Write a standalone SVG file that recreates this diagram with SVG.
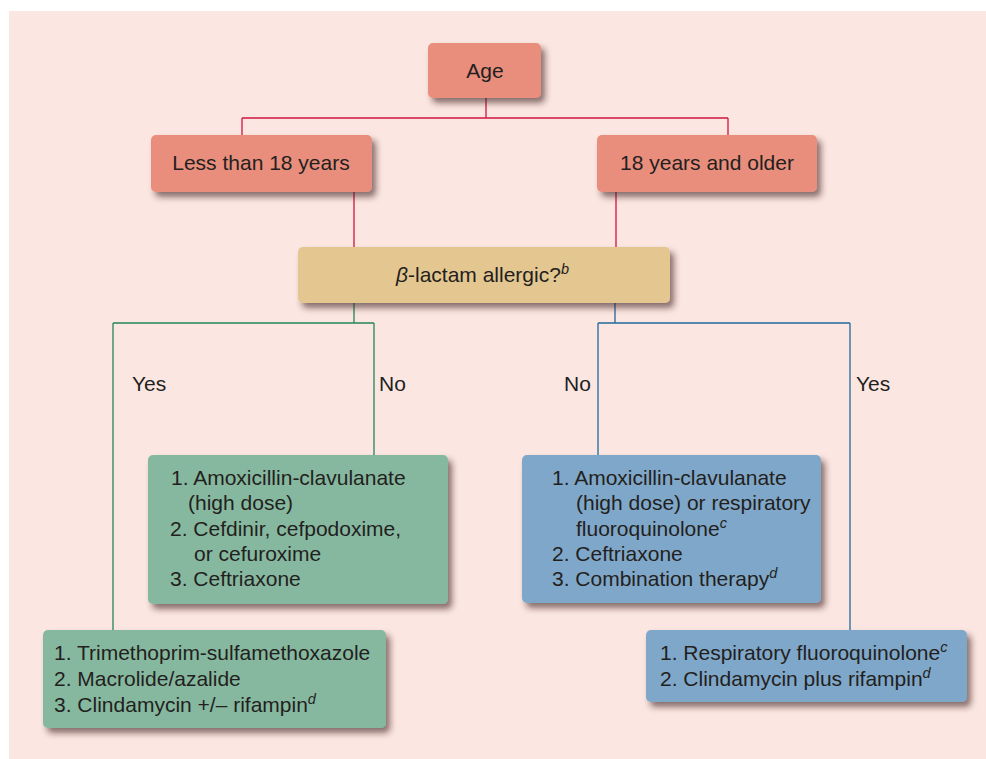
<svg xmlns="http://www.w3.org/2000/svg" width="986" height="759" viewBox="0 0 986 759">
  <defs>
    <filter id="shadow" x="-10%" y="-20%" width="125%" height="150%">
      <feDropShadow dx="4" dy="5" stdDeviation="3" flood-color="#3a2420" flood-opacity="0.6"/>
    </filter>
    <style>
      .box { filter: url(#shadow); }
      .salmon { fill: #e98e7b; }
      .tan { fill: #e4c690; }
      .green { fill: #86b89f; }
      .blue { fill: #7fa7c9; }
      text { font-family: "Liberation Sans", Arial, sans-serif; font-size: 21px; fill: #231f20; }
      .c { text-anchor: middle; }
      .sup { font-size: 14.5px; font-style: italic; }
      .red { stroke: #d0163e; stroke-width: 1.3; fill: none; }
      .grn { stroke: #23865a; stroke-width: 1.3; fill: none; }
      .blu { stroke: #1f6a9c; stroke-width: 1.3; fill: none; }
    </style>
  </defs>

  <!-- panel -->
  <rect x="9" y="11" width="977" height="748" fill="#fbe6e1"/>

  <!-- connectors -->
  <g id="connectors">
    <path class="red" d="M486 98 V118 M242 118 H728 M242 118 V135 M728 118 V135 M354 192 V247 M616 192 V247"/>
    <path class="grn" d="M354 303 V323 M113 323 H374 M374 323 V455 M113 323 V630"/>
    <path class="blu" d="M615 303 V323 M598 323 H850 M598 323 V455 M850 323 V630"/>
  </g>

  <!-- branch labels -->
  <g id="labels">
    <text x="132" y="391">Yes</text>
    <text x="379" y="391">No</text>
    <text x="564" y="391">No</text>
    <text x="856" y="391">Yes</text>
  </g>

  <g id="age">
    <rect class="box salmon" x="428" y="43" width="113" height="55" rx="5"/>
    <text class="c" x="485" y="78">Age</text>
  </g>

  <g id="under18">
    <rect class="box salmon" x="151" y="135" width="221" height="57" rx="5"/>
    <text class="c" x="261" y="170">Less than 18 years</text>
  </g>

  <g id="adult">
    <rect class="box salmon" x="597" y="135" width="220" height="57" rx="5"/>
    <text class="c" x="707" y="170">18 years and older</text>
  </g>

  <g id="allergy">
    <rect class="box tan" x="298" y="247" width="372" height="56" rx="5"/>
    <text x="396" y="282"><tspan font-style="italic">β</tspan>-lactam allergic?<tspan class="sup" dy="-8">b</tspan></text>
  </g>

  <g id="child-no">
    <rect class="box green" x="148" y="455" width="300" height="149" rx="5"/>
    <text x="171" y="485">1. Amoxicillin-clavulanate</text>
    <text x="188" y="510">(high dose)</text>
    <text x="170" y="536">2. Cefdinir, cefpodoxime,</text>
    <text x="194" y="561">or cefuroxime</text>
    <text x="170" y="586">3. Ceftriaxone</text>
  </g>

  <g id="child-yes">
    <rect class="box green" x="43" y="630" width="343" height="98" rx="5"/>
    <text x="54" y="660">1. Trimethoprim-sulfamethoxazole</text>
    <text x="54" y="686">2. Macrolide/azalide</text>
    <text x="54" y="712">3. Clindamycin +/– rifampin<tspan class="sup" dy="-8">d</tspan></text>
  </g>

  <g id="adult-no">
    <rect class="box blue" x="522" y="455" width="299" height="148" rx="5"/>
    <text x="552" y="485">1. Amoxicillin-clavulanate</text>
    <text x="576" y="510">(high dose) or respiratory</text>
    <text x="576" y="536">fluoroquinolone<tspan class="sup" dy="-8">c</tspan></text>
    <text x="552" y="561">2. Ceftriaxone</text>
    <text x="552" y="586">3. Combination therapy<tspan class="sup" dy="-8">d</tspan></text>
  </g>

  <g id="adult-yes">
    <rect class="box blue" x="646" y="630" width="321" height="72" rx="5"/>
    <text x="660" y="660">1. Respiratory fluoroquinolone<tspan class="sup" dy="-8">c</tspan></text>
    <text x="660" y="686">2. Clindamycin plus rifampin<tspan class="sup" dy="-8">d</tspan></text>
  </g>
</svg>
